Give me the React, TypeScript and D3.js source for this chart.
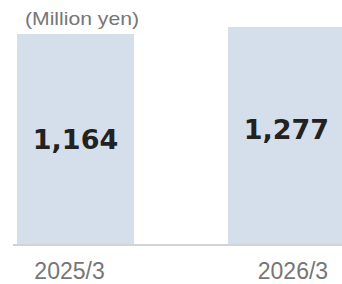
import React, { useEffect, useRef } from 'react';
import * as d3 from 'd3';

const categories = ['2025/3', '2026/3'];
const values = [1164, 1277];
const unitLabel = '(Million yen)';

const W = 342;
const H = 284;

const App = () => {
    const svgRef = useRef<SVGSVGElement | null>(null);

    useEffect(() => {
        if (!svgRef.current) return;
        const svg = d3.select(svgRef.current);
        svg.selectAll('*').remove();

        const x = d3.scaleBand<string>()
            .domain(categories)
            .range([17, 345])
            .paddingInner(0.445)
            .paddingOuter(0);

        // the source axis does not start at zero
        const y = d3.scaleLinear()
            .domain([-2226, 1277])
            .range([244, 27]);

        const data = categories.map((c, i) => ({ cat: c, value: values[i] }));

        svg.append('g')
            .selectAll('rect')
            .data(data)
            .join('rect')
            .attr('x', d => x(d.cat)!)
            .attr('y', d => y(d.value))
            .attr('width', x.bandwidth())
            .attr('height', d => y.range()[0] - y(d.value))
            .attr('fill', '#d5dfeb');

        // baseline
        svg.append('line')
            .attr('x1', 13)
            .attr('x2', W)
            .attr('y1', 245)
            .attr('y2', 245)
            .attr('stroke', '#c4c4c4')
            .attr('stroke-width', 1.5);

        // value labels
        const labelY = [149, 139];
        svg.append('g')
            .selectAll('text')
            .data(data)
            .join('text')
            .attr('x', d => x(d.cat)! + x.bandwidth() / 2)
            .attr('y', (d, i) => labelY[i])
            .attr('text-anchor', 'middle')
            .attr('fill', '#222')
            .style('font-family', '"DejaVu Sans", Verdana, sans-serif')
            .style('font-weight', 'bold')
            .style('font-size', '27px')
            .text(d => d3.format(',')(d.value));

        // category labels
        const dx = [-6, 6.5];
        svg.append('g')
            .selectAll('text')
            .data(data)
            .join('text')
            .attr('x', (d, i) => x(d.cat)! + x.bandwidth() / 2 + dx[i])
            .attr('y', 279)
            .attr('text-anchor', 'middle')
            .attr('fill', '#767676')
            .style('font-family', '"Liberation Sans", Arial, sans-serif')
            .style('font-size', '23px')
            .text(d => d.cat);

        svg.append('text')
            .attr('x', 25)
            .attr('y', 25)
            .attr('fill', '#767676')
            .attr('textLength', 114)
            .attr('lengthAdjust', 'spacingAndGlyphs')
            .style('font-family', '"Liberation Sans", Arial, sans-serif')
            .style('font-size', '19px')
            .text(unitLabel);
    }, []);

    return (
        <svg
            ref={svgRef}
            width={W}
            height={H}
            style={{ position: 'absolute', left: 0, top: 0, background: '#fff' }}
        />
    );
};

export default App;
